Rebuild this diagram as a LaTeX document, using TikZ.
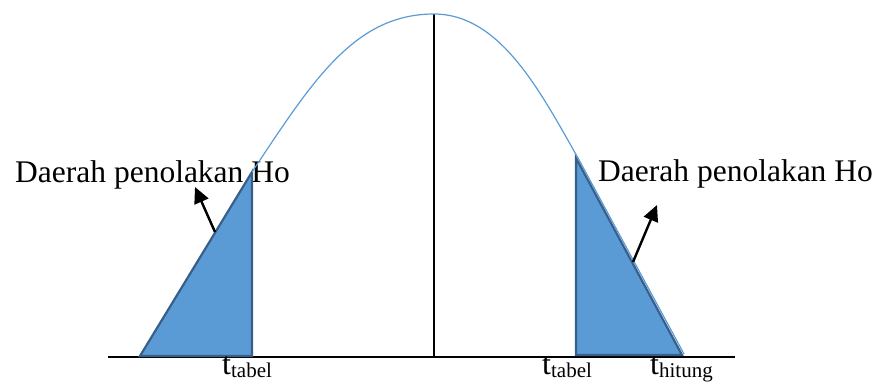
\documentclass[tikz,border=0pt]{standalone}
\usepackage{fontspec}
\setmainfont{Liberation Serif}
\usepackage{tikz}
\usetikzlibrary{arrows.meta,positioning}
\definecolor{areafill}{HTML}{5B9BD5}
\definecolor{areaedge}{HTML}{385F8A}
\newcommand{\tval}[1]{{\fontsize{32}{36}\selectfont t}\raisebox{-3pt}{\fontsize{21}{24}\selectfont #1}}

\begin{document}
\begin{tikzpicture}[x=1pt, y=-1pt,
  regionlabel/.style={inner sep=0pt, anchor=base west, font=\fontsize{31.5}{36}\selectfont},
  tlabel/.style={inner sep=0pt, anchor=base west},
  region/.style={fill=areafill, draw=areaedge, line width=2.2pt, line join=miter},
  pointer/.style={line width=2.4pt, -{Triangle[length=16pt, width=15pt]}}]
\useasboundingbox (0,0) rectangle (883,381);

% labels
\node[regionlabel] (rejL) at (15,182) {Daerah penolakan Ho};
\node[regionlabel] (rejR) at (598,181) {Daerah penolakan Ho};

% axes
\draw[line width=2pt] (108,357) coordinate (axL) -- (735,357) coordinate (axR);
\draw[line width=2pt] (434,14) coordinate (top) -- (434,357) coordinate (mid);

% rejection areas
\draw[region] (140,356) coordinate (aL) -- (252,172) coordinate (bL) -- (252,356) coordinate (cL) -- cycle;
\draw[region] (576,158) coordinate (bR) -- (682,355) coordinate (aR) -- (576,355) coordinate (cR) -- cycle;

% curve
\draw[areafill, line width=1.2pt] (bL) .. controls (312,82) and (354,14) .. (top)
  .. controls (500,14) and (540,91) .. (578,158) -- (684,354);

% pointers
\coordinate (pL) at (215,232);
\coordinate (qL) at (195,187);
\coordinate (pR) at (633,262);
\coordinate (qR) at (657,205);
\draw[pointer] (pL) -- (qL);
\draw[pointer] (pR) -- (qR);

% t values
\node[tlabel] (tabL) at (222,374) {\tval{tabel}};
\node[tlabel] (tabR) at (542,374) {\tval{tabel}};
\node[tlabel] (hit) at (650,374) {\tval{hitung}};
\end{tikzpicture}
\end{document}
